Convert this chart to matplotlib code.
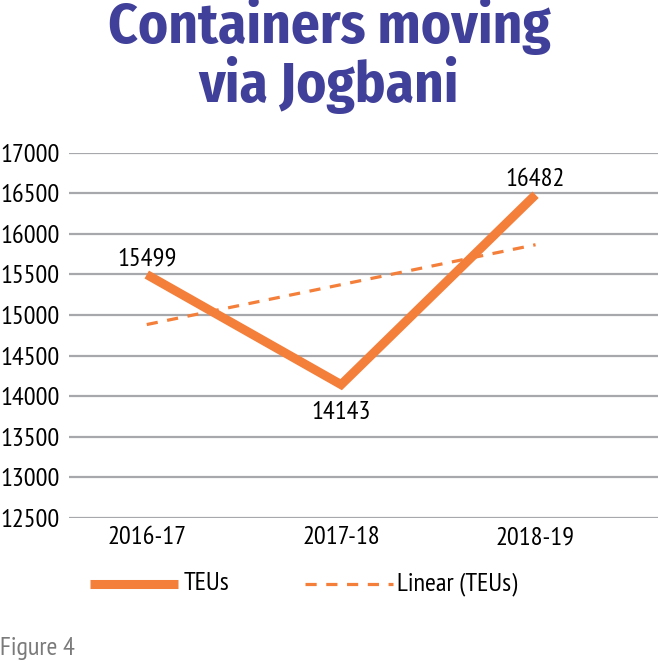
import numpy as np
import matplotlib
matplotlib.use("Agg")
import matplotlib.pyplot as plt
from matplotlib.lines import Line2D

categories = ["2016-17", "2017-18", "2018-19"]
teus = [15499, 14143, 16482]
yticks = [12500, 13000, 13500, 14000, 14500, 15000, 15500, 16000, 16500, 17000]

BODY = ["PT Sans Narrow", "DejaVu Sans"]
TITLE_F = ["Fira Sans Condensed", "DejaVu Sans"]
plt.rcParams["font.family"] = BODY

ORANGE = "#f47f3a"
TITLE_C = "#40409a"
GRID_C = "#a6a8ab"
FS = 19

W, H = 658, 662
fig = plt.figure(figsize=(W / 100, H / 100), dpi=100)

def px(x0, y0, x1, y1):
    return [x0 / W, 1 - y1 / H, (x1 - x0) / W, (y1 - y0) / H]

ax = fig.add_axes(px(69, 152.7, 658, 518))
x = np.arange(len(categories))
ax.plot(x, teus, color=ORANGE, lw=6.5, solid_capstyle="butt", solid_joinstyle="miter", zorder=3)

coef = np.polyfit(x, teus, 1)
trend = np.polyval(coef, x)
ax.plot(x, trend, color=ORANGE, lw=2.3, dashes=(3.5, 3), zorder=2)

ax.set_ylim(12500, 17000)
ax.set_xlim(-0.4, 2.63)
ax.set_yticks(yticks)
ax.set_yticklabels([str(v) for v in yticks])
ax.set_xticks(x)
ax.set_xticklabels(categories)
ax.tick_params(axis="both", length=0, labelsize=FS, colors="black")
ax.tick_params(axis="x", pad=6)
ax.tick_params(axis="y", pad=6.5)
for s in ax.spines.values():
    s.set_visible(False)
ax.grid(axis="y", color=GRID_C, lw=1.6)
ax.set_axisbelow(True)

offsets = [(0, 3), (0, -12), (0, 3)]
for xi, v, (dx, dy) in zip(x, teus, offsets):
    ax.annotate(str(v), (xi, v), xytext=(dx, dy), textcoords="offset points",
                ha="center", va="bottom" if dy > 0 else "top", fontsize=FS, color="black")

t1 = fig.text(329 / W, 1 - 43 / H, "Containers moving", ha="center", va="baseline",
              fontsize=42, fontweight="bold", color=TITLE_C, family=TITLE_F)
t2 = fig.text(329 / W, 1 - 102 / H, "via Jogbani", ha="center", va="baseline",
              fontsize=42, fontweight="bold", color=TITLE_C, family=TITLE_F)
r = fig.canvas.get_renderer()
w = t1.get_window_extent(r).width
fs = 42 * 442 / w
t1.set_fontsize(fs)
t2.set_fontsize(fs)

# legend
ly = 1 - 584 / H
fig.add_artist(Line2D([90 / W, 178 / W], [ly, ly], color=ORANGE, lw=6.5, solid_capstyle="butt"))
fig.text(184 / W, ly, "TEUs", ha="left", va="center", fontsize=FS)
fig.add_artist(Line2D([305 / W, 393 / W], [ly, ly], color=ORANGE, lw=2.3, dashes=(3.5, 3)))
fig.text(397 / W, ly, "Linear (TEUs)", ha="left", va="center", fontsize=FS)

fig.text(0, 1 - 655 / H, "Figure 4", ha="left", va="baseline", fontsize=FS, color="#7a7a7a")

fig.savefig("out.png", dpi=100)
